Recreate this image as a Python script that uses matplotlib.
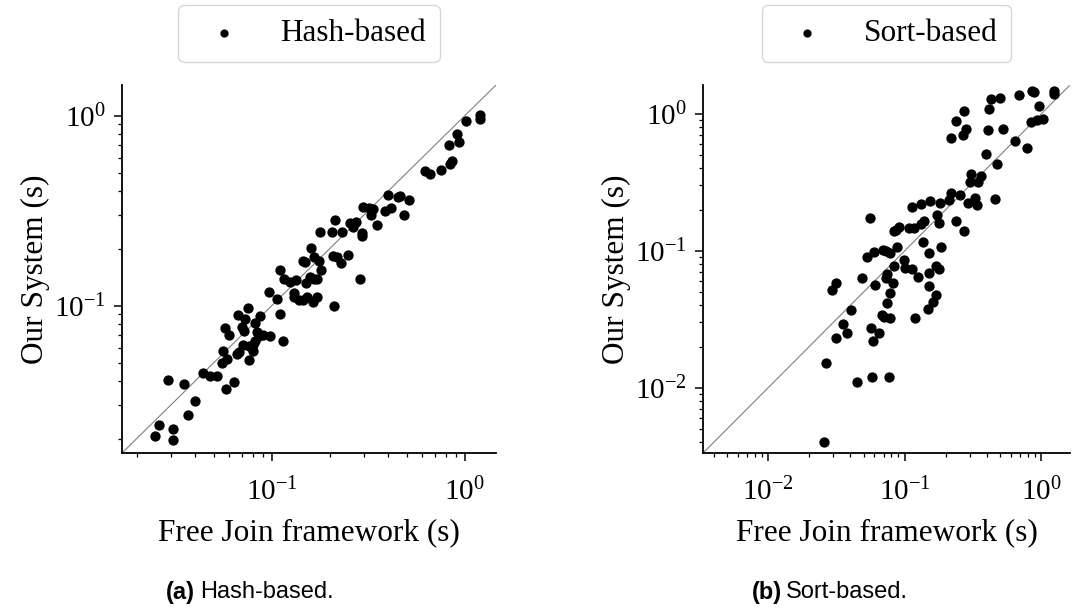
import matplotlib
matplotlib.use("Agg")
import matplotlib.pyplot as plt
import numpy as np

# Hash-based: (Free Join time, our system time) in seconds
hash_x = [1.20, 1.20, 1.02, 0.916, 0.93, 0.826, 0.86, 0.835, 0.753, 0.622, 0.658,
          0.399, 0.45, 0.462, 0.515, 0.416, 0.384, 0.484, 0.297, 0.318, 0.335, 0.327,
          0.35, 0.255, 0.272, 0.263, 0.295, 0.295, 0.214, 0.178, 0.205, 0.231,
          0.159, 0.145, 0.148, 0.165, 0.175, 0.207, 0.218, 0.229, 0.247, 0.181,
          0.171, 0.165, 0.157, 0.150, 0.134, 0.125, 0.116, 0.111, 0.285, 0.131,
          0.130, 0.138, 0.145, 0.152, 0.163, 0.171, 0.211, 0.106, 0.097, 0.111,
          0.115, 0.075, 0.067, 0.073, 0.087, 0.082, 0.070, 0.072, 0.057, 0.060,
          0.084, 0.086, 0.098, 0.090, 0.071, 0.076, 0.080, 0.082, 0.056, 0.066,
          0.068, 0.080, 0.076, 0.059, 0.055, 0.044, 0.0478, 0.0521, 0.029, 0.035,
          0.058, 0.064, 0.040, 0.0369, 0.026, 0.025, 0.031, 0.031]
hash_y = [1.01, 0.96, 0.94, 0.80, 0.73, 0.70, 0.577, 0.557, 0.518, 0.514, 0.493,
          0.384, 0.372, 0.380, 0.361, 0.327, 0.316, 0.299, 0.330, 0.328, 0.324, 0.301,
          0.265, 0.273, 0.275, 0.260, 0.240, 0.233, 0.281, 0.244, 0.244, 0.244,
          0.201, 0.171, 0.169, 0.180, 0.173, 0.183, 0.180, 0.167, 0.185, 0.155,
          0.139, 0.138, 0.141, 0.131, 0.136, 0.134, 0.138, 0.154, 0.139, 0.117,
          0.111, 0.107, 0.107, 0.111, 0.105, 0.111, 0.100, 0.109, 0.118, 0.090,
          0.065, 0.097, 0.089, 0.085, 0.088, 0.081, 0.077, 0.074, 0.076, 0.070,
          0.073, 0.069, 0.069, 0.070, 0.062, 0.0615, 0.062, 0.065, 0.058, 0.056,
          0.057, 0.0575, 0.052, 0.0526, 0.050, 0.0444, 0.0427, 0.0427, 0.0405, 0.0386,
          0.0364, 0.0395, 0.0316, 0.0267, 0.0237, 0.0206, 0.0226, 0.0197]

# Sort-based
sort_x = [1.24, 1.24, 0.86, 0.88, 0.68, 0.499, 0.426, 0.412, 0.955, 0.270,
          0.236, 0.281, 0.267, 0.218, 0.405, 0.527, 0.836, 0.935, 1.035, 0.641,
          0.781, 0.392, 0.477, 0.304, 0.301, 0.344, 0.36, 0.219, 0.211, 0.254,
          0.153, 0.181, 0.29, 0.325, 0.337, 0.458, 0.132, 0.113, 0.173, 0.177,
          0.237, 0.27, 0.138, 0.131, 0.108, 0.117, 0.091, 0.0836, 0.087, 0.056,
          0.136, 0.150, 0.185, 0.088, 0.078, 0.069, 0.060, 0.0726, 0.053, 0.099,
          0.0836, 0.100, 0.113, 0.151, 0.169, 0.179, 0.126, 0.0747, 0.0726, 0.0817,
          0.0488, 0.0313, 0.0296, 0.061, 0.151, 0.0777, 0.169, 0.162, 0.149, 0.0738,
          0.0407, 0.0687, 0.0706, 0.078, 0.118, 0.0356, 0.0377, 0.0315, 0.057,
          0.0653, 0.059, 0.0266, 0.0446, 0.058, 0.0768, 0.0255]
sort_y = [1.47, 1.39, 1.46, 1.45, 1.38, 1.30, 1.27, 1.09, 1.13, 1.04,
          0.889, 0.776, 0.705, 0.67, 0.767, 0.78, 0.873, 0.894, 0.919, 0.634,
          0.566, 0.506, 0.43, 0.363, 0.315, 0.315, 0.349, 0.263, 0.235, 0.256,
          0.231, 0.222, 0.225, 0.242, 0.216, 0.24, 0.219, 0.209, 0.183, 0.159,
          0.165, 0.139, 0.164, 0.156, 0.146, 0.147, 0.149, 0.139, 0.143, 0.173,
          0.115, 0.096, 0.106, 0.107, 0.097, 0.102, 0.098, 0.100, 0.090, 0.0855,
          0.078, 0.075, 0.074, 0.069, 0.0776, 0.0738, 0.0645, 0.0682, 0.0634, 0.0582,
          0.063, 0.0582, 0.0514, 0.056, 0.055, 0.0492, 0.0473, 0.0423, 0.0378, 0.0416,
          0.0371, 0.0341, 0.0328, 0.0323, 0.0323, 0.0292, 0.0251, 0.0231, 0.0272,
          0.0251, 0.0221, 0.0151, 0.0111, 0.0121, 0.0121, 0.0040]

hash_lim = (0.0168, 1.45)
sort_lim = (0.00335, 1.62)

plt.rcParams['font.family'] = ['Liberation Serif', 'DejaVu Serif']
plt.rcParams['mathtext.fontset'] = 'stix'

fig = plt.figure(figsize=(10.75, 6.08), dpi=100)
ax1 = fig.add_axes([0.1135, 0.2549, 0.3479, 0.6053])
ax2 = fig.add_axes([0.654, 0.2549, 0.3414, 0.6053])


def draw(ax, x, y, lim, name):
    ax.scatter(x, y, s=55, color='black', linewidths=0, label=name, zorder=3)
    ax.plot(lim, lim, color='gray', lw=0.8, zorder=2)
    ax.set_xscale('log')
    ax.set_yscale('log')
    ax.set_xlim(lim)
    ax.set_ylim(lim)
    ax.spines['top'].set_visible(False)
    ax.spines['right'].set_visible(False)
    for s in ['left', 'bottom']:
        ax.spines[s].set_linewidth(1.3)
    ax.tick_params(which='major', length=5.5, width=1.1, labelsize=21)
    ax.tick_params(which='minor', length=3, width=0.9)
    ax.tick_params(axis='x', which='major', pad=12)
    ax.tick_params(axis='y', which='major', pad=6)
    ax.set_xlabel('Free Join framework (s)', fontsize=22.5, labelpad=9)
    ax.set_ylabel('Our System (s)', fontsize=22.5, labelpad=3)
    ax.legend(loc='lower center', bbox_to_anchor=(0.5, 1.02), fontsize=22.5,
              markerscale=0.8, scatterpoints=1, borderpad=0.45)


draw(ax1, hash_x, hash_y, hash_lim, 'Hash-based')
draw(ax2, sort_x, sort_y, sort_lim, 'Sort-based')

cap = dict(family='Liberation Sans', fontsize=17, va='center')
cy = 1 - 592 / 608
fig.text(166 / 1075, cy, '(a)', fontweight='bold', ha='left', **cap)
fig.text(200 / 1075, cy, 'Hash-based.', ha='left', **cap)
fig.text(752 / 1075, cy, '(b)', fontweight='bold', ha='left', **cap)
fig.text(786 / 1075, cy, 'Sort-based.', ha='left', **cap)

fig.savefig('out.png', dpi=100)
